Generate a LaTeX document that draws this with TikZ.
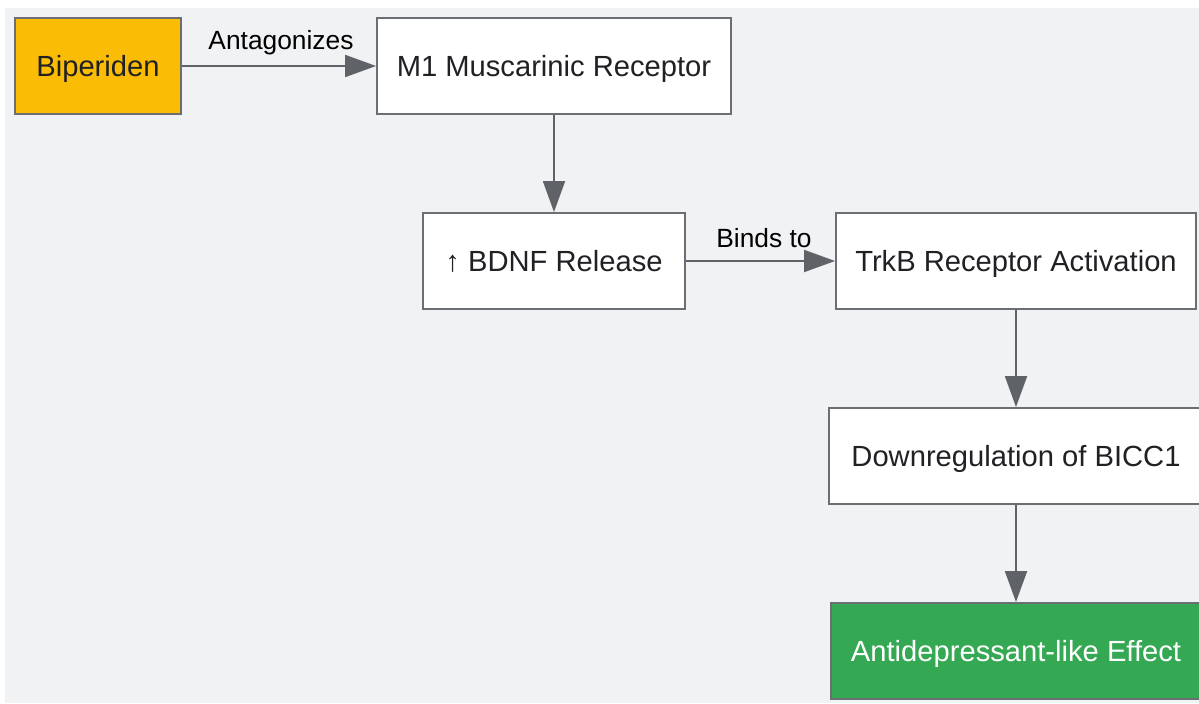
\documentclass[tikz,border=0pt]{standalone}
\usepackage{fontspec}
\setmainfont{Liberation Sans}
\usetikzlibrary{arrows.meta}
\definecolor{bg}{HTML}{F1F2F4}
\definecolor{edge}{HTML}{6B6E73}
\definecolor{arr}{HTML}{5F6368}
\definecolor{txt}{HTML}{202124}
\definecolor{yel}{HTML}{FBBC05}
\definecolor{grn}{HTML}{34A853}
\begin{document}
\begin{tikzpicture}[x=0.02cm,y=-0.02cm,
  box/.style={draw=edge, line width=1.1pt, fill=white, text=txt, inner sep=0pt,
    minimum height=1.92cm, text height=11.6pt, text depth=0pt,
    font=\fontsize{16.6}{19}\selectfont},
  conn/.style={draw=arr, line width=1.1pt, -{Triangle[length=0.62cm,width=0.44cm]}},
  lab/.style={text=black, font=\fontsize{15}{18}\selectfont, inner sep=0pt}]
\useasboundingbox (0,0) rectangle (1199,703);
\fill[bg] (5,8) rectangle (1199,703);
\node[box, fill=yel, minimum width=3.32cm] (bip) at (98,66) {Biperiden};
\node[box, minimum width=7.08cm] (m1) at (554,66) {M1 Muscarinic Receptor};
\node[box, minimum width=5.24cm] (bdnf) at (554,261) {↑ BDNF Release};
\node[box, minimum width=7.20cm] (trkb) at (1016,261) {TrkB Receptor Activation};
\node[box, minimum width=7.48cm] (down) at (1016,456) {Downregulation of BICC1};
\node[box, fill=grn, text=white, minimum width=7.40cm] (anti) at (1016,651) {Antidepressant-like Effect};
\draw[conn] (bip) -- (m1);
\draw[conn] (m1) -- (bdnf);
\draw[conn] (bdnf) -- (trkb);
\draw[conn] (trkb) -- (down);
\draw[conn] (down) -- (anti);
\node[lab] (l1) at (281,43) {Antagonizes};
\node[lab] (l2) at (764,238) {Binds to};
\end{tikzpicture}
\end{document}
